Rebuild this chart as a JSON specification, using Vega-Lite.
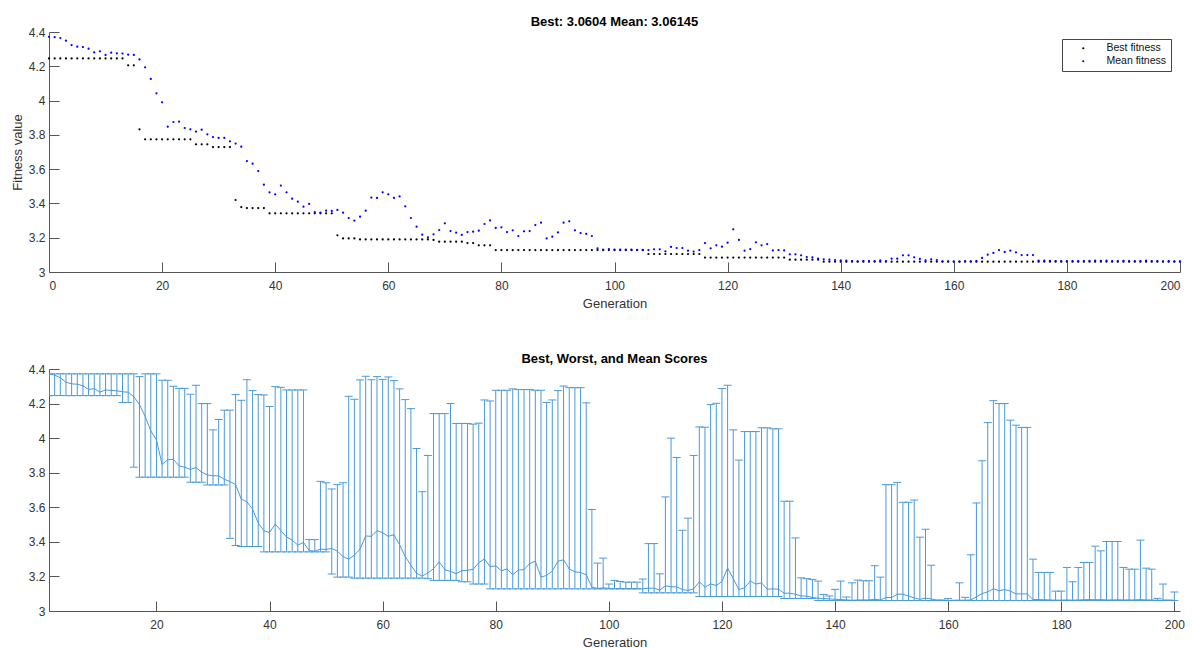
{
"$schema": "https://vega.github.io/schema/vega-lite/v6.json",
"padding": {"left": 11, "top": 16, "right": 0, "bottom": 0},
"spacing": 43,
"config": {
 "font": "Liberation Sans",
 "view": {"stroke": null},
 "axis": {"domainColor": "#555555", "tickColor": "#555555", "labelColor": "#333333", "titleColor": "#333333", "labelFontSize": 12, "titleFontSize": 13, "titleFontWeight": "normal", "grid": false, "tickSize": -10, "labelPadding": 14, "domainWidth": 1, "tickWidth": 1},
 "axisX": {"labelPadding": 18, "titlePadding": 6},
 "title": {"fontSize": 13, "fontWeight": "bold", "color": "#000000", "offset": -3}
},
"datasets": {"d": [
{"g":0,"best":4.246,"mean":4.372,"worst":4.372},
{"g":1,"best":4.246,"mean":4.37,"worst":4.372},
{"g":2,"best":4.246,"mean":4.365,"worst":4.372},
{"g":3,"best":4.246,"mean":4.349,"worst":4.372},
{"g":4,"best":4.246,"mean":4.324,"worst":4.372},
{"g":5,"best":4.246,"mean":4.314,"worst":4.372},
{"g":6,"best":4.246,"mean":4.312,"worst":4.372},
{"g":7,"best":4.246,"mean":4.303,"worst":4.372},
{"g":8,"best":4.246,"mean":4.281,"worst":4.372},
{"g":9,"best":4.246,"mean":4.287,"worst":4.372},
{"g":10,"best":4.246,"mean":4.266,"worst":4.372},
{"g":11,"best":4.246,"mean":4.279,"worst":4.372},
{"g":12,"best":4.246,"mean":4.276,"worst":4.372},
{"g":13,"best":4.246,"mean":4.274,"worst":4.372},
{"g":14,"best":4.206,"mean":4.268,"worst":4.372},
{"g":15,"best":4.206,"mean":4.266,"worst":4.372},
{"g":16,"best":3.832,"mean":4.24,"worst":4.372},
{"g":17,"best":3.774,"mean":4.194,"worst":4.356},
{"g":18,"best":3.774,"mean":4.126,"worst":4.372},
{"g":19,"best":3.774,"mean":4.042,"worst":4.372},
{"g":20,"best":3.774,"mean":3.99,"worst":4.372},
{"g":21,"best":3.774,"mean":3.848,"worst":4.335},
{"g":22,"best":3.774,"mean":3.875,"worst":4.335},
{"g":23,"best":3.774,"mean":3.877,"worst":4.3},
{"g":24,"best":3.774,"mean":3.84,"worst":4.288},
{"g":25,"best":3.774,"mean":3.832,"worst":4.288},
{"g":26,"best":3.745,"mean":3.819,"worst":4.254},
{"g":27,"best":3.745,"mean":3.83,"worst":4.306},
{"g":28,"best":3.745,"mean":3.803,"worst":4.2},
{"g":29,"best":3.729,"mean":3.787,"worst":4.2},
{"g":30,"best":3.729,"mean":3.782,"worst":4.048},
{"g":31,"best":3.729,"mean":3.782,"worst":4.108},
{"g":32,"best":3.729,"mean":3.762,"worst":4.162},
{"g":33,"best":3.42,"mean":3.749,"worst":4.162},
{"g":34,"best":3.379,"mean":3.731,"worst":4.252},
{"g":35,"best":3.373,"mean":3.647,"worst":4.219},
{"g":36,"best":3.373,"mean":3.632,"worst":4.338},
{"g":37,"best":3.373,"mean":3.589,"worst":4.275},
{"g":38,"best":3.373,"mean":3.509,"worst":4.252},
{"g":39,"best":3.342,"mean":3.465,"worst":4.25},
{"g":40,"best":3.342,"mean":3.453,"worst":4.183},
{"g":41,"best":3.342,"mean":3.504,"worst":4.298},
{"g":42,"best":3.342,"mean":3.465,"worst":4.294},
{"g":43,"best":3.342,"mean":3.428,"worst":4.279},
{"g":44,"best":3.342,"mean":3.41,"worst":4.279},
{"g":45,"best":3.342,"mean":3.381,"worst":4.279},
{"g":46,"best":3.342,"mean":3.397,"worst":4.279},
{"g":47,"best":3.342,"mean":3.35,"worst":3.413},
{"g":48,"best":3.342,"mean":3.346,"worst":3.413},
{"g":49,"best":3.342,"mean":3.358,"worst":3.75},
{"g":50,"best":3.342,"mean":3.356,"worst":3.742},
{"g":51,"best":3.214,"mean":3.362,"worst":3.706},
{"g":52,"best":3.196,"mean":3.346,"worst":3.731},
{"g":53,"best":3.196,"mean":3.315,"worst":3.742},
{"g":54,"best":3.196,"mean":3.3,"worst":4.242},
{"g":55,"best":3.19,"mean":3.323,"worst":4.225},
{"g":56,"best":3.19,"mean":3.358,"worst":4.337},
{"g":57,"best":3.19,"mean":3.434,"worst":4.358},
{"g":58,"best":3.19,"mean":3.432,"worst":4.338},
{"g":59,"best":3.19,"mean":3.465,"worst":4.356},
{"g":60,"best":3.19,"mean":3.453,"worst":4.34},
{"g":61,"best":3.19,"mean":3.432,"worst":4.354},
{"g":62,"best":3.19,"mean":3.441,"worst":4.333},
{"g":63,"best":3.19,"mean":3.383,"worst":4.285},
{"g":64,"best":3.19,"mean":3.315,"worst":4.223},
{"g":65,"best":3.19,"mean":3.264,"worst":4.171},
{"g":66,"best":3.19,"mean":3.218,"worst":3.94},
{"g":67,"best":3.19,"mean":3.202,"worst":3.69},
{"g":68,"best":3.187,"mean":3.22,"worst":3.9},
{"g":69,"best":3.177,"mean":3.245,"worst":4.142},
{"g":70,"best":3.177,"mean":3.284,"worst":4.142},
{"g":71,"best":3.177,"mean":3.239,"worst":4.142},
{"g":72,"best":3.177,"mean":3.229,"worst":4.2},
{"g":73,"best":3.177,"mean":3.216,"worst":4.085},
{"g":74,"best":3.169,"mean":3.233,"worst":4.085},
{"g":75,"best":3.169,"mean":3.235,"worst":4.085},
{"g":76,"best":3.156,"mean":3.241,"worst":4.081},
{"g":77,"best":3.156,"mean":3.28,"worst":4.087},
{"g":78,"best":3.156,"mean":3.301,"worst":4.221},
{"g":79,"best":3.128,"mean":3.257,"worst":4.215},
{"g":80,"best":3.128,"mean":3.261,"worst":4.277},
{"g":81,"best":3.128,"mean":3.233,"worst":4.277},
{"g":82,"best":3.128,"mean":3.243,"worst":4.277},
{"g":83,"best":3.128,"mean":3.21,"worst":4.285},
{"g":84,"best":3.128,"mean":3.237,"worst":4.281},
{"g":85,"best":3.128,"mean":3.239,"worst":4.281},
{"g":86,"best":3.128,"mean":3.274,"worst":4.281},
{"g":87,"best":3.128,"mean":3.288,"worst":4.277},
{"g":88,"best":3.128,"mean":3.196,"worst":4.277},
{"g":89,"best":3.128,"mean":3.206,"worst":4.206},
{"g":90,"best":3.128,"mean":3.231,"worst":4.221},
{"g":91,"best":3.128,"mean":3.288,"worst":4.275},
{"g":92,"best":3.128,"mean":3.296,"worst":4.302},
{"g":93,"best":3.128,"mean":3.243,"worst":4.292},
{"g":94,"best":3.128,"mean":3.227,"worst":4.292},
{"g":95,"best":3.128,"mean":3.222,"worst":4.292},
{"g":96,"best":3.128,"mean":3.21,"worst":4.204},
{"g":97,"best":3.128,"mean":3.138,"worst":3.587},
{"g":98,"best":3.128,"mean":3.13,"worst":3.277},
{"g":99,"best":3.128,"mean":3.134,"worst":3.306},
{"g":100,"best":3.128,"mean":3.131,"worst":3.156},
{"g":101,"best":3.128,"mean":3.13,"worst":3.177},
{"g":102,"best":3.128,"mean":3.13,"worst":3.171},
{"g":103,"best":3.128,"mean":3.13,"worst":3.167},
{"g":104,"best":3.128,"mean":3.129,"worst":3.167},
{"g":105,"best":3.128,"mean":3.129,"worst":3.167},
{"g":106,"best":3.105,"mean":3.128,"worst":3.185},
{"g":107,"best":3.105,"mean":3.132,"worst":3.39},
{"g":108,"best":3.105,"mean":3.132,"worst":3.39},
{"g":109,"best":3.105,"mean":3.121,"worst":3.215},
{"g":110,"best":3.105,"mean":3.146,"worst":3.66},
{"g":111,"best":3.105,"mean":3.14,"worst":4.0},
{"g":112,"best":3.105,"mean":3.14,"worst":3.888},
{"g":113,"best":3.105,"mean":3.124,"worst":3.467},
{"g":114,"best":3.105,"mean":3.119,"worst":3.537},
{"g":115,"best":3.105,"mean":3.128,"worst":3.9},
{"g":116,"best":3.084,"mean":3.169,"worst":4.065},
{"g":117,"best":3.084,"mean":3.138,"worst":4.063},
{"g":118,"best":3.084,"mean":3.156,"worst":4.194},
{"g":119,"best":3.084,"mean":3.148,"worst":4.202},
{"g":120,"best":3.084,"mean":3.171,"worst":4.287},
{"g":121,"best":3.084,"mean":3.249,"worst":4.306},
{"g":122,"best":3.084,"mean":3.187,"worst":4.048},
{"g":123,"best":3.084,"mean":3.124,"worst":3.873},
{"g":124,"best":3.084,"mean":3.134,"worst":4.038},
{"g":125,"best":3.084,"mean":3.173,"worst":4.038},
{"g":126,"best":3.084,"mean":3.156,"worst":4.038},
{"g":127,"best":3.084,"mean":3.163,"worst":4.06},
{"g":128,"best":3.084,"mean":3.126,"worst":4.06},
{"g":129,"best":3.084,"mean":3.128,"worst":4.054},
{"g":130,"best":3.084,"mean":3.126,"worst":4.054},
{"g":131,"best":3.072,"mean":3.103,"worst":3.635},
{"g":132,"best":3.072,"mean":3.103,"worst":3.635},
{"g":133,"best":3.072,"mean":3.097,"worst":3.423},
{"g":134,"best":3.072,"mean":3.087,"worst":3.192},
{"g":135,"best":3.072,"mean":3.086,"worst":3.187},
{"g":136,"best":3.072,"mean":3.078,"worst":3.183},
{"g":137,"best":3.0604,"mean":3.074,"worst":3.173},
{"g":138,"best":3.0604,"mean":3.072,"worst":3.096},
{"g":139,"best":3.0604,"mean":3.07,"worst":3.087},
{"g":140,"best":3.0604,"mean":3.068,"worst":3.125},
{"g":141,"best":3.0604,"mean":3.066,"worst":3.173},
{"g":142,"best":3.0604,"mean":3.064,"worst":3.081},
{"g":143,"best":3.0604,"mean":3.062,"worst":3.163},
{"g":144,"best":3.0604,"mean":3.064,"worst":3.179},
{"g":145,"best":3.0604,"mean":3.064,"worst":3.175},
{"g":146,"best":3.0604,"mean":3.064,"worst":3.175},
{"g":147,"best":3.0604,"mean":3.068,"worst":3.262},
{"g":148,"best":3.0604,"mean":3.064,"worst":3.196},
{"g":149,"best":3.0604,"mean":3.078,"worst":3.731},
{"g":150,"best":3.0604,"mean":3.078,"worst":3.731},
{"g":151,"best":3.0604,"mean":3.097,"worst":3.744},
{"g":152,"best":3.0604,"mean":3.097,"worst":3.629},
{"g":153,"best":3.0604,"mean":3.086,"worst":3.629},
{"g":154,"best":3.0604,"mean":3.076,"worst":3.642},
{"g":155,"best":3.0604,"mean":3.068,"worst":3.427},
{"g":156,"best":3.0604,"mean":3.074,"worst":3.473},
{"g":157,"best":3.0604,"mean":3.07,"worst":3.265},
{"g":158,"best":3.0604,"mean":3.062,"worst":3.063},
{"g":159,"best":3.0604,"mean":3.062,"worst":3.063},
{"g":160,"best":3.0604,"mean":3.061,"worst":3.073},
{"g":161,"best":3.0604,"mean":3.061,"worst":3.062},
{"g":162,"best":3.0604,"mean":3.063,"worst":3.163},
{"g":163,"best":3.0604,"mean":3.062,"worst":3.079},
{"g":164,"best":3.0604,"mean":3.064,"worst":3.325},
{"g":165,"best":3.0604,"mean":3.082,"worst":3.625},
{"g":166,"best":3.0604,"mean":3.101,"worst":3.869},
{"g":167,"best":3.0604,"mean":3.111,"worst":4.09},
{"g":168,"best":3.0604,"mean":3.128,"worst":4.217},
{"g":169,"best":3.0604,"mean":3.117,"worst":4.2},
{"g":170,"best":3.0604,"mean":3.124,"worst":4.2},
{"g":171,"best":3.0604,"mean":3.115,"worst":4.104},
{"g":172,"best":3.0604,"mean":3.099,"worst":4.075},
{"g":173,"best":3.0604,"mean":3.099,"worst":4.062},
{"g":174,"best":3.0604,"mean":3.099,"worst":4.062},
{"g":175,"best":3.0604,"mean":3.066,"worst":3.3},
{"g":176,"best":3.0604,"mean":3.066,"worst":3.223},
{"g":177,"best":3.0604,"mean":3.065,"worst":3.223},
{"g":178,"best":3.0604,"mean":3.064,"worst":3.223},
{"g":179,"best":3.0604,"mean":3.063,"worst":3.115},
{"g":180,"best":3.0604,"mean":3.063,"worst":3.115},
{"g":181,"best":3.0604,"mean":3.064,"worst":3.252},
{"g":182,"best":3.0604,"mean":3.063,"worst":3.169},
{"g":183,"best":3.0604,"mean":3.064,"worst":3.252},
{"g":184,"best":3.0604,"mean":3.065,"worst":3.281},
{"g":185,"best":3.0604,"mean":3.066,"worst":3.281},
{"g":186,"best":3.0604,"mean":3.065,"worst":3.375},
{"g":187,"best":3.0604,"mean":3.066,"worst":3.348},
{"g":188,"best":3.0604,"mean":3.064,"worst":3.402},
{"g":189,"best":3.0604,"mean":3.064,"worst":3.402},
{"g":190,"best":3.0604,"mean":3.065,"worst":3.402},
{"g":191,"best":3.0604,"mean":3.064,"worst":3.252},
{"g":192,"best":3.0604,"mean":3.064,"worst":3.242},
{"g":193,"best":3.0604,"mean":3.064,"worst":3.242},
{"g":194,"best":3.0604,"mean":3.066,"worst":3.41},
{"g":195,"best":3.0604,"mean":3.064,"worst":3.248},
{"g":196,"best":3.0604,"mean":3.064,"worst":3.242},
{"g":197,"best":3.0604,"mean":3.062,"worst":3.073},
{"g":198,"best":3.0604,"mean":3.063,"worst":3.156},
{"g":199,"best":3.0604,"mean":3.062,"worst":3.063},
{"g":200,"best":3.0604,"mean":3.0615,"worst":3.11}
]},
"vconcat": [
 {
  "width": 1131, "height": 240,
  "title": {"text": "Best: 3.0604 Mean: 3.06145"},
  "data": {"name": "d"},
  "transform": [{"fold": ["best", "mean"], "as": ["series", "value"]}],
  "mark": {"type": "point", "filled": true, "size": 5, "opacity": 1},
  "encoding": {
   "x": {"field": "g", "type": "quantitative", "scale": {"domain": [0, 200], "nice": false, "zero": false},
         "axis": {"values": [0,20,40,60,80,100,120,140,160,180,200], "title": "Generation"}},
   "y": {"field": "value", "type": "quantitative", "scale": {"domain": [3, 4.4], "nice": false, "zero": false},
         "axis": {"values": [3,3.2,3.4,3.6,3.8,4,4.2,4.4], "format": ".1~f", "title": "Fitness value"}},
   "color": {"field": "series", "type": "nominal",
     "scale": {"domain": ["best", "mean"], "range": ["#000000", "#0000ff"]},
     "legend": {"orient": "none", "legendX": 1013, "legendY": 7, "title": null, "strokeColor": "#444444", "fillColor": "#ffffff",
       "padding": 4, "symbolType": "circle", "symbolSize": 5, "symbolOffset": 12, "labelOffset": 18, "labelFontSize": 10.5, "labelColor": "#111111", "rowPadding": 2,
       "labelExpr": "datum.label == 'best' ? 'Best fitness' : 'Mean fitness'"}}
  }
 },
 {
  "width": 1131, "height": 242,
  "title": {"text": "Best, Worst, and Mean Scores"},
  "data": {"name": "d"},
  "encoding": {
   "x": {"field": "g", "type": "quantitative", "scale": {"domain": [1, 201], "nice": false, "zero": false},
         "axis": {"values": [20,40,60,80,100,120,140,160,180,200], "title": "Generation"}}
  },
  "layer": [
   {"mark": {"type": "rule", "color": "#4a9ad9", "strokeWidth": 1, "clip": true},
    "encoding": {"y": {"field": "best", "type": "quantitative", "scale": {"domain": [3, 4.4], "nice": false, "zero": false},
                       "axis": {"values": [3,3.2,3.4,3.6,3.8,4,4.2,4.4], "format": ".1~f", "title": null}},
                 "y2": {"field": "worst"}}},
   {"mark": {"type": "tick", "orient": "horizontal", "size": 8, "thickness": 1, "color": "#4a9ad9", "opacity": 1, "clip": true},
    "encoding": {"y": {"field": "best", "type": "quantitative", "axis": {"values": [3,3.2,3.4,3.6,3.8,4,4.2,4.4], "format": ".1~f", "title": null}}}},
   {"mark": {"type": "tick", "orient": "horizontal", "size": 8, "thickness": 1, "color": "#4a9ad9", "opacity": 1, "clip": true},
    "encoding": {"y": {"field": "worst", "type": "quantitative", "axis": {"values": [3,3.2,3.4,3.6,3.8,4,4.2,4.4], "format": ".1~f", "title": null}}}},
   {"mark": {"type": "line", "color": "#4a9ad9", "strokeWidth": 1, "clip": true},
    "encoding": {"y": {"field": "mean", "type": "quantitative", "axis": {"values": [3,3.2,3.4,3.6,3.8,4,4.2,4.4], "format": ".1~f", "title": null}}}}
  ]
 }
]
}
